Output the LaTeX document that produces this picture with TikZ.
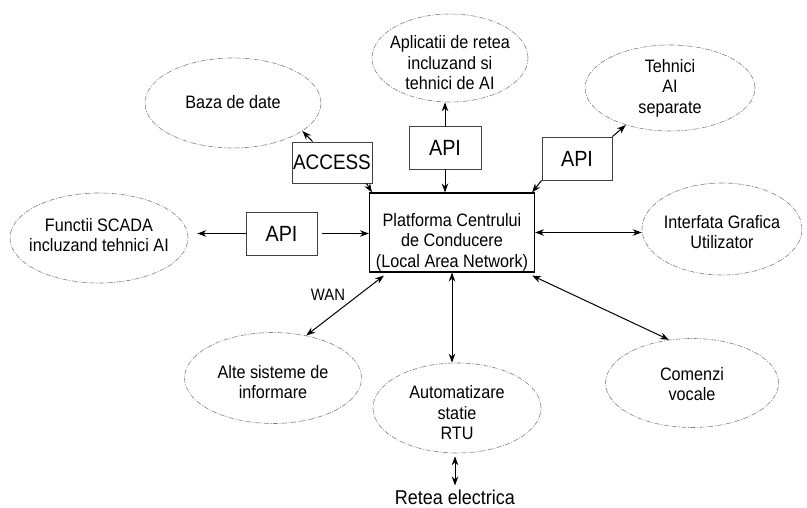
\documentclass[tikz,border=0pt]{standalone}
\usepackage{fontspec}
\setmainfont{Liberation Sans}[FakeStretch=0.9]
\usetikzlibrary{shapes.geometric,arrows.meta}
\begin{document}
\begin{tikzpicture}[x=1pt,y=-1pt,
  bubble/.style={ellipse, draw=black!50, line width=0.6pt,
    dash pattern=on 5pt off 1.5pt on 1pt off 1.5pt, inner sep=0pt},
  btxt/.style={align=center, font=\fontsize{18}{20.5}\selectfont},
  apibox/.style={draw=black!75, line width=0.8pt, minimum width=71pt,
    minimum height=43pt, inner sep=0pt, font=\fontsize{22}{26}\selectfont},
  link/.style={line width=1pt, -{Stealth[length=9pt,width=6.5pt]}},
  both/.style={line width=1pt,
    {Stealth[length=9pt,width=6.5pt]}-{Stealth[length=9pt,width=6.5pt]}},
]
\useasboundingbox (0,0) rectangle (807,508);

% surrounding systems
\node[bubble, minimum width=176pt, minimum height=90pt,
  label={[btxt,yshift=1pt]center:Baza de date}] (baza) at (233,103) {};
\node[bubble, minimum width=156pt, minimum height=88pt,
  label={[btxt,yshift=-5pt]center:{Aplicatii de retea\\incluzand si\\tehnici de AI}}] (apl) at (450,58) {};
\node[bubble, minimum width=170pt, minimum height=86pt,
  label={[btxt]center:{Tehnici\\AI\\separate}}] (tehn) at (670,88) {};
\node[bubble, minimum width=178pt, minimum height=90pt,
  label={[btxt,yshift=3pt]center:{Functii SCADA\\incluzand tehnici AI}}] (scada) at (99,238) {};
\node[bubble, minimum width=160pt, minimum height=92pt,
  label={[btxt,yshift=-3pt]center:{Interfata Grafica\\Utilizator}}] (gui) at (722,229) {};
\node[bubble, minimum width=177pt, minimum height=91pt,
  label={[btxt,yshift=-4pt]center:{Alte sisteme de\\informare}}] (alte) at (273,378) {};
\node[bubble, minimum width=168pt, minimum height=90pt,
  label={[btxt,yshift=-5pt]center:{Automatizare\\statie\\RTU}}] (rtu) at (457,408) {};
\node[bubble, minimum width=173pt, minimum height=89pt,
  label={[btxt,yshift=-1pt]center:{Comenzi\\vocale}}] (voce) at (692,383) {};

% interface boxes
\node[apibox, minimum width=80pt, minimum height=41pt,
  font=\fontsize{21}{25}\selectfont] (access) at (332,162.5) {ACCESS};
\node[apibox, minimum width=72pt] (apiT) at (445,147.5) {API};
\node[apibox, minimum width=70pt] (apiR) at (577,158.5) {API};
\node[apibox] (apiL) at (281.5,233.5) {API};

% control centre platform
\node[draw, line width=1.1pt, minimum width=165pt, minimum height=79pt, inner sep=0pt,
  label={[btxt,yshift=-9.5pt]center:{Platforma Centrului\\de Conducere\\(Local Area Network)}}]
  (plat) at (452,232.5) {};

\node[font=\fontsize{16.5}{19}\selectfont] (wan) at (328,295) {WAN};
\node[font=\fontsize{20}{22}\selectfont, inner sep=1pt] (retea) at (455,497) {Retea electrica};

% connectors
\draw[link] ([xshift=21pt]access.north west) -- (baza.-22);
\draw[link] ([xshift=-6pt]access.south east) -- ([xshift=3pt]plat.north west);
\draw[link] (apiT.north) -- (apiT.north |- apl.south);
\draw[link] (apiT.south) -- (apiT.south |- plat.north);
\draw[link] (apiR.north east) -- (tehn.-140);
\draw[link] (apiR.south west) -- ([xshift=-3pt]plat.north east);
\draw[link, shorten >=9pt] (apiL.west) -- (apiL.west -| scada.east);
\draw[link, shorten <=5pt] (apiL.east) -- (apiL.east -| plat.west);
\draw[both] (plat.east) -- (plat.east -| gui.west);
\draw[both] ([xshift=15pt,yshift=-3pt]plat.south west) -- (alte.52);
\draw[both] (plat.south) -- (plat.south |- rtu.north);
\draw[both] ([xshift=-3pt,yshift=-3pt]plat.south east) -- (voce.118);
\draw[both, shorten <=3pt, shorten >=3pt] (rtu.south -| retea.north) -- (retea.north);
\end{tikzpicture}
\end{document}
